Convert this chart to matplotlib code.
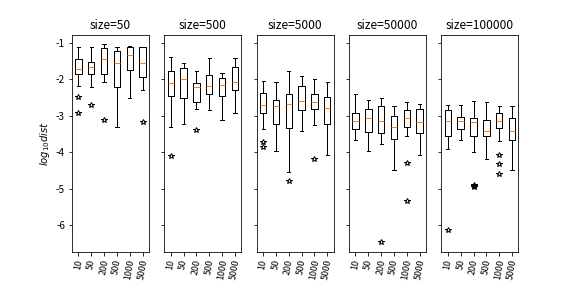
import matplotlib as mpl
mpl.use('agg')
import matplotlib.pyplot as plt

plt.rcParams['font.family'] = ['Noto Sans CJK JP', 'DejaVu Sans']
plt.rcParams['axes.unicode_minus'] = False

sizes = [50, 500, 5000, 50000, 100000]
params = ['10', '50', '200', '500', '1000', '5000']

# per panel (size), per box (param) - log10 dist
whishi = [[-1.12, -1.12, -1.05, -1.12, -1.08, -1.12],
          [-1.39, -1.55, -1.79, -1.41, -1.82, -1.41],
          [-2.04, -2.07, -1.79, -1.91, -1.99, -2.07],
          [-2.40, -2.56, -2.51, -2.75, -2.64, -2.67],
          [-2.72, -2.72, -2.61, -2.64, -2.75, -2.75]]
q3 = [[-1.44, -1.52, -1.15, -1.23, -1.11, -1.12],
      [-1.77, -1.69, -2.12, -1.90, -1.96, -1.68],
      [-2.37, -2.58, -2.40, -2.20, -2.40, -2.48],
      [-2.94, -2.83, -2.75, -3.00, -2.86, -2.81],
      [-2.86, -3.03, -3.08, -3.11, -2.92, -3.08]]
med = [[-1.71, -1.66, -1.44, -1.55, -1.33, -1.55],
       [-2.12, -1.99, -2.23, -2.20, -2.15, -2.09],
       [-2.70, -2.75, -2.67, -2.59, -2.64, -2.78],
       [-3.14, -3.08, -3.16, -3.30, -3.08, -3.19],
       [-3.14, -3.16, -3.19, -3.41, -3.14, -3.41]]
q1 = [[-1.87, -1.87, -1.87, -2.23, -1.74, -1.93],
      [-2.45, -2.51, -2.64, -2.40, -2.45, -2.29],
      [-2.92, -3.24, -3.35, -2.86, -2.81, -3.22],
      [-3.38, -3.46, -3.49, -3.63, -3.30, -3.49],
      [-3.55, -3.38, -3.55, -3.57, -3.33, -3.66]]
whislo = [[-2.20, -2.23, -2.07, -3.30, -2.51, -2.30],
          [-3.30, -3.22, -2.81, -2.86, -3.11, -2.92],
          [-3.38, -3.98, -4.56, -3.41, -3.27, -4.07],
          [-3.66, -3.98, -3.79, -4.50, -3.55, -4.09],
          [-3.93, -3.68, -4.01, -4.20, -3.71, -4.48]]
fliers = [[[-2.50, -2.93], [-2.72], [-3.13], [], [], [-3.18]],
          [[-4.10], [], [-3.40], [], [], []],
          [[-3.73, -3.85], [], [-4.80], [], [-4.20], []],
          [[], [], [-6.47], [], [-4.30, -5.34], []],
          [[-6.15], [], [-4.91, -4.93, -4.95], [], [-4.08, -4.33, -4.59], []]]

fig, axes = plt.subplots(1, 5, sharey=True, figsize=(8, 4), dpi=72)
fig.subplots_adjust(bottom=0.125)

for i, ax in enumerate(axes):
    stats = []
    for j in range(len(params)):
        stats.append({'whislo': whislo[i][j], 'q1': q1[i][j], 'med': med[i][j],
                      'q3': q3[i][j], 'whishi': whishi[i][j],
                      'fliers': fliers[i][j], 'label': params[j]})
    ax.bxp(stats, flierprops=dict(marker='*', markerfacecolor='none',
                                  markeredgecolor='black'))
    ax.set_title('size=%d' % sizes[i])
    ax.tick_params(axis='x', labelrotation=80, labelsize=9)

axes[0].set_ylabel('$log_{10}dist$')

fig.savefig('out.png', dpi=72)
